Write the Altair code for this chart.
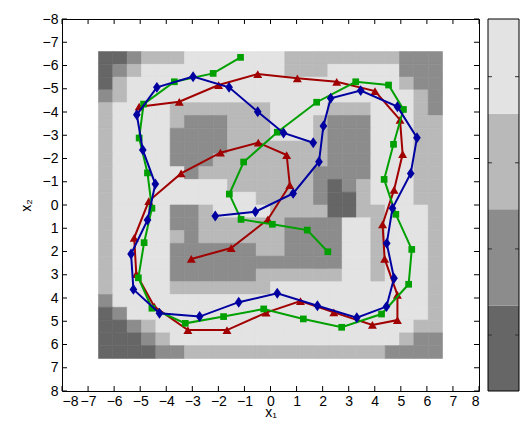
import altair as alt
import pandas as pd

# ---------------- data ----------------
# background levels (0 darkest .. 3 lightest); rows go from x2=-6.6 (top) to x2=6.6 (bottom)
grid_rows = [
    "001222333333322222222111",
    "012333333333322233333111",
    "023333333333333333333211",
    "123333333333333333333321",
    "233332222222333322233321",
    "233332111222333211133322",
    "233331111222333211133322",
    "233331111222222211133322",
    "233331112222222211133322",
    "233333122222222111133322",
    "233333333222222101233322",
    "233333333332222100233322",
    "233331123333222200223332",
    "233331122222211113323332",
    "233332122222211113323332",
    "233331111112211113323332",
    "233331111111111113323332",
    "233331111112222223323332",
    "233332222222333333333332",
    "133333333333333333333332",
    "013333333333333333333332",
    "001233333333333333333322",
    "000123333333333333333211",
    "000011222222222222221111",
]
grid_lo, grid_hi = -6.6, 6.6

green_x1 = [-1.15, -2.20, -3.69, -4.87, -5.04, -4.72, -4.55, -4.85, -5.07, -4.55, -3.27, -1.80, -0.26, 1.26, 2.73, 4.26,
            5.30, 5.42, 4.81, 4.36, 4.72, 5.10, 4.53, 3.27, 1.77, 0.26, -1.03, -1.58, -1.13, 0.07, 1.41, 2.20]
green_x2 = [-6.35, -5.66, -5.30, -4.34, -2.88, -1.38, 0.14, 1.62, 3.13, 4.44, 5.09, 4.80, 4.47, 4.90, 5.26, 4.69,
            3.41, 1.91, 0.40, -1.10, -2.61, -4.11, -5.16, -5.30, -4.42, -3.13, -1.85, -0.47, 0.62, 0.83, 1.08, 2.01]

red_x1 = [-3.04, -1.51, -0.10, 0.74, 0.62, -0.47, -1.92, -3.43, -4.67, -5.23, -5.15, -4.46, -3.17, -1.67, -0.17, 1.15,
          2.43, 3.91, 4.87, 4.87, 4.38, 4.30, 4.74, 5.07, 4.97, 4.01, 2.54, 1.03, -0.49, -1.99, -3.50, -5.04]
red_x2 = [2.32, 1.85, 0.62, -0.86, -2.15, -2.68, -2.25, -1.36, -0.17, 1.41, 2.97, 4.37, 5.38, 5.38, 4.63, 4.13,
          4.62, 5.16, 4.95, 3.87, 2.32, 0.83, -0.65, -2.19, -3.66, -4.90, -5.30, -5.45, -5.63, -5.16, -4.44, -4.23]

blue_x1 = [-2.12, -0.58, 0.87, 1.86, 2.03, 2.31, 3.46, 4.87, 5.62, 5.38, 4.68, 4.46, 4.74, 4.45, 3.31, 1.80,
           0.26, -1.22, -2.72, -4.26, -5.26, -5.35, -4.72, -4.42, -4.90, -5.13, -4.36, -2.97, -1.59, -0.49, 0.50, 1.64]
blue_x2 = [0.47, 0.29, -0.50, -1.86, -3.40, -4.59, -4.92, -4.23, -2.89, -1.36, 0.14, 1.65, 3.15, 4.37, 4.85, 4.33,
           3.80, 4.18, 4.80, 4.66, 3.63, 2.11, 0.65, -0.90, -2.37, -3.88, -5.06, -5.52, -5.06, -4.01, -3.10, -2.68]

axis_ticks = list(range(-8, 9))
cb_ticks = [0, 1, 2, 3]
cb_band_lo = [-0.65, 0.34, 1.46, 2.57]
cb_band_hi = [0.34, 1.46, 2.57, 3.67]
levels = [0, 1, 2, 3]
grays = ["#666666", "#8c8c8c", "#b9b9b9", "#e3e3e3"]

# ---------------- tables ----------------
n = len(grid_rows)
step = (grid_hi - grid_lo) / n
cells = []
for r, row in enumerate(grid_rows):
    for c, ch in enumerate(row):
        cells.append({"x": grid_lo + c * step, "xe": grid_lo + (c + 1) * step,
                      "y": grid_lo + r * step, "ye": grid_lo + (r + 1) * step, "level": int(ch)})
grid_df = pd.DataFrame(cells)

def series(xs_, ys_):
    return pd.DataFrame({"x": xs_, "y": ys_, "i": list(range(len(xs_)))})

ticks_df = pd.DataFrame({"t": axis_ticks})
cb_df = pd.DataFrame({"lo": cb_band_lo, "hi": cb_band_hi, "level": levels})
cbt_df = pd.DataFrame({"t": cb_ticks})
cbframe_df = pd.DataFrame({"lo": [cb_band_lo[0]], "hi": [cb_band_hi[-1]]})

W, H = 417, 372
FONT = "Liberation Sans"
FS = 14
xs = alt.Scale(domain=[-8, 8], nice=False, zero=False)
ys = alt.Scale(domain=[-8, 8], reverse=True, nice=False, zero=False)
cbs = alt.Scale(domain=[cb_band_lo[0], cb_band_hi[-1]], nice=False, zero=False)
col = alt.Color("level:O", scale=alt.Scale(domain=levels, range=grays), legend=None)

x_axis = alt.Axis(values=axis_ticks, ticks=False, domain=False, grid=False, labelFont=FONT,
                  labelFontSize=FS, labelColor="black", labelPadding=3, title="x₁", titleFont=FONT,
                  titleFontSize=FS, titleFontWeight="normal", titleColor="black", titlePadding=-3)
y_axis = alt.Axis(values=axis_ticks, ticks=False, domain=False, grid=False, labelFont=FONT,
                  labelFontSize=FS, labelColor="black", labelPadding=4, title="x₂", titleFont=FONT,
                  titleFontSize=FS, titleFontWeight="normal", titleColor="black", titlePadding=9)

def X(field):
    return alt.X(field, scale=xs, axis=x_axis)

def Y(field):
    return alt.Y(field, scale=ys, axis=None)

raster = alt.Chart(grid_df).mark_rect(strokeWidth=0.6).encode(
    x=X("x:Q"), x2="xe",
    y=alt.Y("y:Q", scale=ys, axis=y_axis), y2="ye",
    color=col, stroke=alt.Stroke("level:O", scale=alt.Scale(domain=levels, range=grays), legend=None))

def traj(xs_, ys_, color, shape, size):
    base = alt.Chart(series(xs_, ys_))
    ln = base.mark_line(color=color, strokeWidth=2).encode(x=X("x:Q"), y=Y("y:Q"), order="i:Q")
    pt = base.mark_point(shape=shape, filled=True, color=color, size=size, opacity=1).encode(
        x=X("x:Q"), y=Y("y:Q"))
    return [ln, pt]

diamond = "M0,-1L0.7,0L0,1L-0.7,0Z"
layers = [raster]
layers += traj(red_x1, red_x2, "#a00000", "triangle-up", 80)
layers += traj(green_x1, green_x2, "#00a000", "square", 45)
layers += traj(blue_x1, blue_x2, "#0000a0", diamond, 120)

tk = alt.Chart(ticks_df)
tlen = 5
layers += [
    tk.mark_rule(color="black").encode(x=X("t:Q"), y=alt.value(H), y2=alt.value(H - tlen)),
    tk.mark_rule(color="black").encode(x=X("t:Q"), y=alt.value(0), y2=alt.value(tlen)),
    tk.mark_rule(color="black").encode(y=Y("t:Q"), x=alt.value(0), x2=alt.value(tlen)),
    tk.mark_rule(color="black").encode(y=Y("t:Q"), x=alt.value(W), x2=alt.value(W - tlen)),
]

cb_x0, cb_x1 = 426, 457
cb_axis = alt.Axis(orient="right", offset=cb_x1 - W, values=cb_ticks, ticks=False, domain=False, grid=False,
                   labelFont=FONT, labelFontSize=FS, labelColor="black", labelPadding=3, title=None)
layers += [
    alt.Chart(cb_df).mark_rect().encode(x=alt.value(cb_x0), x2=alt.value(cb_x1),
                                        y=alt.Y("lo:Q", scale=cbs, axis=cb_axis), y2="hi", color=col),
    alt.Chart(cbt_df).mark_rule(color="#333333").encode(x=alt.value(cb_x0), x2=alt.value(cb_x0 + 4),
                                                      y=alt.Y("t:Q", scale=cbs, axis=None)),
    alt.Chart(cbt_df).mark_rule(color="#333333").encode(x=alt.value(cb_x1 - 4), x2=alt.value(cb_x1),
                                                      y=alt.Y("t:Q", scale=cbs, axis=None)),
    alt.Chart(cbframe_df).mark_rect(filled=False, stroke="black", strokeWidth=1).encode(
        x=alt.value(cb_x0), x2=alt.value(cb_x1), y=alt.Y("lo:Q", scale=cbs, axis=None), y2="hi"),
]

chart = alt.layer(*layers).resolve_scale(y="independent").properties(
    width=W, height=H,
    autosize=alt.AutoSizeParams(type="none"),
    padding={"left": 54, "top": 11, "right": 41, "bottom": 29},
    background="white",
).configure_view(stroke="black", strokeWidth=1)

chart.save("out.html", embed_options={"renderer": "svg", "actions": False})
